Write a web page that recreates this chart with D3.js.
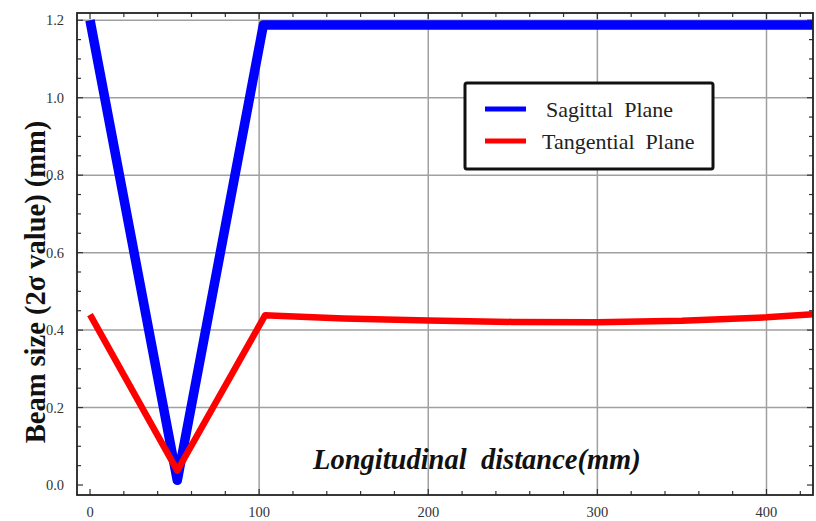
<!DOCTYPE html>
<html><head><meta charset="utf-8">
<script src="https://cdn.jsdelivr.net/npm/d3@7"></script>
<style>body{margin:0;background:#fff}svg{display:block}</style>
</head><body>
<script>
const sagX = [0, 51.6, 102.5, 428];
const sagY = [1.2, 0.012, 1.188, 1.188];
const tanX = [0, 51.6, 103.5, 110, 150, 200, 250, 300, 350, 400, 428];
const tanY = [0.44, 0.037, 0.438, 0.437, 0.430, 0.425, 0.421, 0.420, 0.424, 0.433, 0.441];
const xTicks = [0, 100, 200, 300, 400];
const yTicks = [0.0, 0.2, 0.4, 0.6, 0.8, 1.0, 1.2];
const seriesNames = ["Sagittal  Plane", "Tangential  Plane"];
const colors = ["#0000ff", "#ff0000"];

const W = 816, H = 521;
const L = 77, R = 813, T = 13, B = 495;
const svg = d3.select("body").append("svg").attr("width", W).attr("height", H);
const x = d3.scaleLinear().domain([-7.7, 427.5]).range([L, R]);
const y = d3.scaleLinear().domain([-0.0258, 1.2187]).range([B, T]);

svg.append("defs").append("clipPath").attr("id", "clip")
  .append("rect").attr("x", L).attr("y", T).attr("width", R - L).attr("height", B - T);

// grid
const g = svg.append("g");
g.selectAll(".vg").data(xTicks.filter(d => d > 0)).join("line")
  .attr("x1", d => x(d)).attr("x2", d => x(d)).attr("y1", T).attr("y2", B)
  .attr("stroke", "#a0a0a0").attr("stroke-width", 1.5);
g.selectAll(".hg").data(yTicks.filter(d => d > 0)).join("line")
  .attr("y1", d => y(d)).attr("y2", d => y(d)).attr("x1", L).attr("x2", R)
  .attr("stroke", "#a0a0a0").attr("stroke-width", 1.5);

// ticks inward on all sides
const xMinor = d3.range(0, 428, 20);
const yMinor = d3.range(0, 1.21, 0.05);
const tk = svg.append("g").attr("stroke", "#333").attr("stroke-width", 1.2);
xMinor.forEach(v => {
  const len = (Math.round(v) % 100 === 0) ? 6 : 4;
  tk.append("line").attr("x1", x(v)).attr("x2", x(v)).attr("y1", B).attr("y2", B - len);
  tk.append("line").attr("x1", x(v)).attr("x2", x(v)).attr("y1", T).attr("y2", T + len);
});
yMinor.forEach(v => {
  const major = Math.abs(v * 5 - Math.round(v * 5)) < 1e-6;
  const len = major ? 6 : 4;
  tk.append("line").attr("y1", y(v)).attr("y2", y(v)).attr("x1", L).attr("x2", L + len);
  tk.append("line").attr("y1", y(v)).attr("y2", y(v)).attr("x1", R).attr("x2", R - len);
});

// tick labels
svg.append("g").selectAll("text").data(xTicks).join("text")
  .attr("x", d => x(d)).attr("y", 517).attr("text-anchor", "middle")
  .attr("font-family", "Liberation Serif").attr("font-size", 14.5).attr("fill", "#333")
  .text(d => d);
svg.append("g").selectAll("text").data(yTicks).join("text")
  .attr("x", 64).attr("y", d => y(d) + 5).attr("text-anchor", "end")
  .attr("font-family", "Liberation Serif").attr("font-size", 14.5).attr("fill", "#333")
  .text(d => d.toFixed(1));

// lines
const line = d3.line().x(d => x(d[0])).y(d => y(d[1]));
const plot = svg.append("g").attr("clip-path", "url(#clip)");
plot.append("path").datum(sagX.map((v, i) => [v, sagY[i]]))
  .attr("d", line).attr("fill", "none").attr("stroke", colors[0])
  .attr("stroke-width", 9.5).attr("stroke-linejoin", "round");
plot.append("path").datum(tanX.map((v, i) => [v, tanY[i]]))
  .attr("d", line).attr("fill", "none").attr("stroke", colors[1])
  .attr("stroke-width", 6.5).attr("stroke-linejoin", "round");

// frame
svg.append("rect").attr("x", L).attr("y", T).attr("width", R - L).attr("height", B - T)
  .attr("fill", "none").attr("stroke", "#222").attr("stroke-width", 1.8);

// legend
const lg = svg.append("g");
lg.append("rect").attr("x", 465).attr("y", 83).attr("width", 248).attr("height", 86)
  .attr("rx", 2).attr("fill", "#fff").attr("stroke", "#111").attr("stroke-width", 3);
seriesNames.forEach((n, i) => {
  const yy = 109 + i * 32;
  lg.append("line").attr("x1", 485).attr("x2", 526).attr("y1", yy).attr("y2", yy)
    .attr("stroke", colors[i]).attr("stroke-width", 5);
  lg.append("text").attr("x", i === 0 ? 546 : 542).attr("y", yy + 8)
    .attr("font-family", "Liberation Serif").attr("font-size", 22).attr("fill", "#222")
    .style("white-space", "pre").text(n);
});

// axis titles
svg.append("text").attr("x", 313).attr("y", 469)
  .attr("font-family", "Liberation Serif").attr("font-size", 28.5)
  .attr("font-weight", "bold").attr("font-style", "italic").attr("fill", "#111")
  .style("white-space", "pre").text("Longitudinal  distance(mm)");
svg.append("text").attr("transform", "translate(45,282) rotate(-90)")
  .attr("text-anchor", "middle")
  .attr("font-family", "Liberation Serif").attr("font-size", 28.5)
  .attr("font-weight", "bold").attr("fill", "#111")
  .text("Beam size (2σ value) (mm)");
</script>
</body></html>
